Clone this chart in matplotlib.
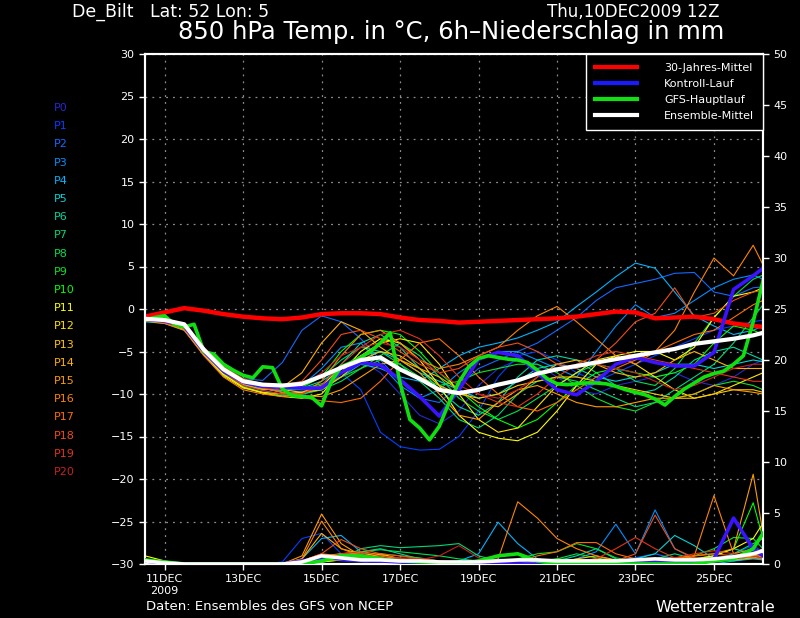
import numpy as np
import matplotlib
matplotlib.use("Agg")
import matplotlib.pyplot as plt
from matplotlib.lines import Line2D

# days after 11DEC2009 00Z (run: 10DEC2009 12Z)
t12 = np.append(np.arange(32) * 0.5 - 0.5, 15.25)
t6 = np.arange(64) * 0.25 - 0.5

tick_days = [0, 2, 4, 6, 8, 10, 12, 14]
tick_names = ["11DEC\n2009", "13DEC", "15DEC", "17DEC", "19DEC", "21DEC", "23DEC", "25DEC"]

member_names = ["P%d" % i for i in range(21)]
member_colors = ['#2828d0', '#0040ff', '#1468ff', '#0090ff', '#00b4ff', '#00d4d8', '#00d8a0',
                 '#00d878', '#00e050', '#10e028', '#00ff00', '#ffff00', '#ffe400', '#ffc800',
                 '#ffb000', '#ff9c00', '#ff8400', '#ff6c00', '#f04c18', '#e03418', '#c82020']

# 850 hPa temperature, ensemble members (12-hourly)
ens_temp = [
    [-1.2,-1.5,-2.2,-5.0,-7.4,-8.9,-9.6,-10.0,-10.2,-9.0,-7.0,-6.0,-7.5,-10.0,-12.5,-13.5,-12.0,-9.0,-7.0,-6.0,-6.5,-8.0,-9.5,-10.0,-9.0,-8.5,-8.0,-7.5,-8.5,-9.0,-8.0,-6.5,-6.0],
    [-1.1,-1.3,-2.0,-4.6,-7.0,-8.6,-9.2,-9.5,-9.7,-9.0,-7.5,-9.5,-14.5,-16.2,-16.6,-16.5,-15.0,-12.0,-8.0,-5.5,-5.0,-6.0,-7.5,-8.5,-7.5,-6.5,-5.5,-4.5,-3.5,-2.5,-2.0,-1.5,-1.3],
    [-1.3,-1.4,-1.9,-4.5,-6.8,-8.2,-8.4,-6.3,-2.5,-0.8,-1.5,-3.5,-6.0,-8.5,-10.5,-11.0,-9.0,-7.0,-6.0,-5.0,-4.0,-2.5,-1.0,1.0,2.5,3.0,3.5,4.2,4.3,2.0,1.5,2.5,2.6],
    [-1.2,-1.3,-2.1,-5.2,-7.5,-8.8,-9.5,-9.5,-9.0,-7.0,-4.5,-4.0,-6.5,-9.0,-10.5,-9.5,-7.5,-6.0,-5.0,-5.0,-6.0,-7.0,-8.0,-5.0,-2.0,0.5,-1.0,-0.5,1.0,2.5,3.5,4.0,3.5],
    [-1.4,-1.6,-2.3,-5.0,-7.2,-8.6,-9.3,-9.8,-10.0,-9.5,-8.0,-6.5,-7.0,-8.0,-8.5,-7.0,-5.5,-4.5,-4.0,-3.4,-2.5,-1.5,0.3,2.0,3.8,5.4,4.8,2.0,-0.8,-2.0,-3.0,-2.5,-2.0],
    [-1.5,-1.7,-2.5,-5.3,-7.8,-9.0,-9.4,-9.6,-9.3,-8.5,-7.0,-5.5,-5.0,-6.0,-7.5,-8.5,-9.5,-10.5,-10.0,-8.5,-7.0,-6.5,-7.0,-8.0,-8.5,-8.0,-7.5,-6.5,-6.5,-7.0,-6.5,-6.0,-6.2],
    [-1.2,-1.4,-2.0,-4.9,-7.1,-8.4,-8.9,-9.3,-9.5,-9.0,-6.5,-4.0,-3.0,-4.5,-7.0,-9.5,-11.5,-12.5,-11.0,-8.0,-6.0,-5.5,-6.0,-7.5,-9.0,-10.0,-9.5,-8.0,-6.0,-5.0,-4.5,-5.5,-6.0],
    [-1.1,-1.2,-1.8,-4.7,-7.0,-8.3,-8.8,-9.0,-8.8,-8.0,-6.0,-4.5,-5.0,-6.5,-8.5,-10.5,-13.0,-14.0,-12.5,-10.0,-8.5,-8.0,-8.5,-9.5,-10.5,-11.5,-11.0,-9.5,-8.0,-6.5,-4.0,-1.0,0.5],
    [-1.3,-1.5,-2.2,-5.1,-7.6,-9.1,-9.8,-10.2,-10.0,-9.5,-8.5,-7.0,-5.5,-4.0,-5.5,-8.0,-10.5,-12.0,-13.0,-12.0,-10.5,-9.0,-7.5,-6.5,-7.0,-8.5,-9.0,-7.0,-4.0,-1.0,1.5,3.5,4.0],
    [-1.2,-1.4,-2.1,-4.8,-7.3,-8.7,-9.2,-9.4,-9.4,-8.8,-8.0,-7.0,-6.0,-6.5,-8.0,-9.0,-8.5,-7.5,-7.0,-6.5,-6.5,-7.5,-9.0,-10.5,-11.5,-12.0,-11.0,-10.5,-10.0,-9.0,-8.5,-9.0,-9.5],
    [-1.0,-1.2,-1.9,-4.6,-6.9,-8.3,-8.8,-9.1,-9.2,-8.0,-5.0,-3.0,-2.5,-3.0,-5.0,-7.5,-9.5,-11.5,-13.0,-14.0,-13.0,-11.0,-9.0,-7.5,-7.0,-7.5,-8.0,-7.5,-6.5,-4.0,-2.0,-2.5,-3.0],
    [-1.3,-1.5,-2.3,-5.2,-7.7,-9.2,-9.9,-10.3,-10.5,-10.0,-7.5,-5.0,-3.5,-4.0,-6.0,-9.0,-12.5,-14.5,-15.2,-15.5,-14.5,-12.0,-9.0,-6.5,-5.5,-5.0,-5.0,-6.0,-4.5,-1.0,1.5,2.0,2.5],
    [-1.4,-1.6,-2.4,-5.4,-7.9,-9.3,-9.8,-10.0,-9.8,-9.0,-7.0,-5.5,-4.0,-3.5,-4.0,-6.5,-10.0,-13.0,-14.5,-14.0,-11.5,-9.0,-7.5,-6.0,-5.5,-6.5,-8.0,-9.5,-10.5,-10.0,-9.0,-8.0,-7.5],
    [-1.2,-1.3,-2.0,-4.9,-7.2,-8.6,-9.1,-9.5,-9.8,-9.5,-8.0,-6.0,-5.0,-5.5,-7.0,-9.0,-10.0,-10.5,-10.0,-9.0,-8.5,-8.0,-8.0,-8.5,-9.0,-9.5,-10.0,-10.5,-10.5,-10.0,-9.5,-9.5,-9.8],
    [-1.3,-1.5,-2.1,-5.0,-7.4,-8.9,-9.5,-9.2,-7.5,-4.0,-1.5,-2.5,-4.5,-6.0,-7.0,-8.0,-9.5,-11.0,-11.5,-10.0,-8.0,-6.5,-6.0,-6.5,-7.5,-8.0,-7.5,-6.0,-5.0,-6.0,-7.0,-7.0,-7.0],
    [-1.1,-1.3,-1.9,-4.7,-7.0,-8.5,-9.3,-9.8,-10.2,-10.3,-9.5,-8.0,-6.5,-6.0,-7.5,-10.0,-12.5,-13.0,-11.0,-9.5,-9.0,-10.0,-11.0,-11.5,-11.5,-11.0,-10.5,-10.5,-10.0,-9.0,-9.5,-9.8,-10.0],
    [-1.4,-1.7,-2.5,-5.5,-8.0,-9.5,-10.0,-10.3,-10.0,-8.5,-5.5,-3.0,-2.5,-4.0,-6.0,-7.0,-6.5,-5.5,-4.5,-2.5,-0.8,0.3,-1.5,-3.5,-5.5,-6.5,-5.0,-2.5,2.0,6.0,3.9,7.5,5.2],
    [-1.2,-1.4,-2.0,-4.8,-7.2,-8.7,-9.3,-9.8,-10.4,-10.8,-11.0,-10.5,-8.5,-6.0,-4.0,-3.5,-5.5,-8.0,-10.0,-11.5,-12.0,-11.0,-9.5,-8.0,-7.0,-6.0,-5.0,-4.0,-3.0,-2.5,-1.0,0.5,1.0],
    [-1.0,-1.2,-1.8,-4.5,-6.8,-8.2,-8.8,-9.0,-8.5,-6.0,-3.0,-2.5,-3.5,-5.0,-6.5,-7.5,-7.0,-5.5,-4.5,-4.0,-5.0,-6.5,-7.0,-6.0,-4.0,-1.5,-0.5,2.5,-1.0,-0.5,1.0,2.0,2.2],
    [-1.3,-1.6,-2.3,-5.1,-7.5,-9.0,-9.6,-10.0,-10.0,-9.0,-6.5,-4.5,-3.0,-2.5,-3.5,-5.5,-8.0,-10.0,-11.0,-11.5,-10.0,-8.0,-6.5,-5.5,-5.0,-5.5,-6.0,-6.5,-7.0,-7.5,-8.0,-8.5,-8.5],
    [-1.2,-1.4,-2.1,-5.0,-7.3,-8.7,-9.2,-9.5,-9.0,-7.5,-5.5,-4.5,-4.0,-4.5,-6.0,-7.5,-9.0,-10.0,-10.5,-9.5,-8.0,-7.0,-6.5,-6.5,-7.0,-7.5,-8.5,-9.5,-9.0,-8.0,-7.0,-6.5,-6.5],
]

# 6h precipitation (mm), ensemble members (12-hourly)
ens_prec = [
    [0.3,0.2,0,0,0,0,0,0,0.2,0.5,0.3,0.2,0,0,0,0,0.2,0.4,0.2,0,0,0.3,0.2,0,0,0.2,0,0,0.3,0.2,0.5,0.8,1.0],
    [0.2,0,0,0,0,0,0,0.2,2.5,3.0,1.0,0.5,0.3,0,0,0,0,0.3,0.5,0.3,0,0,0,0,0,0,0.4,0.3,0,0.5,1.0,1.8,1.2],
    [0.3,0.1,0,0,0,0,0,0,0.3,0.8,0.6,0.4,0.5,0.3,0,0,0,0,0,0,0,0,0,0,0.3,0.6,1.0,0.5,0.2,0.3,0.5,1.2,0.8],
    [0.2,0,0,0,0,0,0,0,0.2,0.5,0.5,0.3,0.2,0,0,0.2,0,0,0,0,0,0,0.5,1.2,3.9,1.0,5.3,1.5,0.5,0.3,0.4,0.8,0.6],
    [0.4,0.2,0,0,0,0,0,0,0.5,2.5,2.8,1.2,0.6,0.3,0.2,0,0.3,1.0,4.1,2.0,0.5,0.2,0,0,0,0,0.3,0.5,0.2,0,0.3,0.5,0.4],
    [0.3,0.1,0,0,0,0,0,0,0.2,0.6,1.0,0.8,0.5,0.4,0.3,0.2,0,0,0,0,0,0,0,0,0.3,0.5,1.0,2.8,1.8,0.5,0.3,0.6,0.5],
    [0.2,0,0,0,0,0,0,0,0,0.3,0.8,1.2,1.5,1.0,0.5,0.3,0,0,0,0,0,0.3,0.8,1.5,0.5,0,0,0,0.3,0.8,1.5,1.0,0.8],
    [0.2,0.1,0,0,0,0,0,0,0,0.2,0.5,1.5,1.8,1.6,1.7,1.8,2.0,0.8,0.3,0,0,0,0,0,0,0,0.5,1.0,0.5,0.3,1.0,2.0,2.5],
    [0.3,0.1,0,0,0,0,0,0,0,0.3,0.6,1.2,1.4,1.2,1.0,0.8,0.5,0.3,0,0,0.2,0.5,1.0,0.6,0.3,0,0,0.3,0.8,1.5,2.6,2.5,1.5],
    [0.2,0,0,0,0,0,0,0,0,0.2,0.4,0.6,1.0,0.8,0.6,0.3,0,0,0,0.5,1.0,1.2,2.0,1.5,0.6,0.3,0,0,0.2,0.5,0.8,1.0,0.8],
    [0.3,0.2,0,0,0,0,0,0,0,0.4,0.5,0.6,0.8,0.5,0.3,0.2,0,0,0,0,0.3,0.5,0.4,0.3,0,0,0,0.3,0.5,0.8,1.5,6.0,2.5],
    [0.8,0.3,0,0,0,0,0,0,0,0.2,0.4,0.8,1.0,0.5,0.3,0,0,0,0,0,0,0,0,0,0,0,0,0.2,0.5,0.8,1.5,2.5,4.0],
    [0.5,0.2,0,0,0,0,0,0,0,0.3,0.6,1.0,0.8,0.5,0.3,0.2,0,0,0,0,0,0.2,0.3,0.5,0.3,0,0,0.2,0.3,0.5,0.8,1.0,1.5],
    [0.4,0.2,0,0,0,0,0,0,0.2,0.8,1.0,1.2,0.9,0.5,0.3,0,0,0,0,0,0,0.2,0.5,0.8,0.4,0.2,0,0,0.3,0.5,0.6,0.8,1.0],
    [0.3,0.1,0,0,0,0,0,0,0.5,3.0,1.5,1.0,0.6,0.3,0.2,0,0,0,0,0,0.2,0.4,0.3,0.2,0,0,0.2,0.4,0.6,0.5,0.4,0.6,0.8],
    [0.2,0.1,0,0,0,0,0,0,0.8,4.9,2.0,0.8,0.5,0.3,0.2,0,0,0,0,0,0,0,0,0,0,0.3,0.5,0.6,0.8,1.0,1.5,8.8,3.0],
    [0.3,0.1,0,0,0,0,0,0,0.5,4.2,1.5,0.8,0.5,0.3,0,0,0,0,0.5,6.1,4.5,2.5,1.5,0.8,0.3,0.2,0,0.3,0.8,6.7,1.0,1.5,1.2],
    [0.2,0.1,0,0,0,0,0,0,0.3,1.0,0.8,0.6,0.4,0.3,0.2,0,0,0,0,0.3,0.8,1.2,2.1,2.1,1.0,0.5,0.3,0.5,0.8,1.0,0.8,0.6,0.5],
    [0.3,0.1,0,0,0,0,0,0,0.3,1.0,2.4,1.5,1.0,0.8,0.5,0.3,0,0,0,0,0,0,0,0,0.3,1.0,4.8,1.5,0.6,0.5,0.8,1.0,0.8],
    [0.2,0,0,0,0,0,0,0,0.2,0.6,1.0,1.2,0.8,0.6,0.5,0.3,0.2,0,0,0,0,0,0.2,0.5,1.5,2.6,1.5,0.6,1.0,1.3,1.0,0.8,0.6],
    [0.2,0,0,0,0,0,0,0,0.2,0.5,0.8,1.0,0.6,0.5,0.4,0.8,1.8,0.6,0.2,0,0,0,0,0,0,0.3,0.5,0.3,0.2,0.5,0.8,1.0,1.2],
]

clim_temp = [-0.9,-0.4,0.1,-0.2,-0.6,-0.9,-1.1,-1.2,-1.0,-0.6,-0.5,-0.5,-0.6,-1.0,-1.3,-1.4,-1.6,-1.5,-1.4,-1.3,-1.2,-1.1,-0.9,-0.6,-0.3,-0.4,-1.1,-1.0,-0.9,-1.2,-1.7,-2.0,-2.1]
mean_temp = [-1.15,-1.3,-1.8,-4.8,-7.1,-8.5,-8.9,-9.0,-8.8,-7.9,-6.9,-6.0,-5.7,-7.1,-8.2,-9.5,-9.9,-9.5,-8.9,-8.4,-7.6,-7.1,-6.7,-6.3,-5.9,-5.5,-5.1,-4.7,-4.1,-3.8,-3.5,-3.1,-2.8]
ctrl_temp = [-1.2,-1.4,-2.0,-5.0,-7.3,-8.6,-9.1,-9.2,-9.3,-9.3,-7.5,-6.3,-6.6,-8.3,-10.3,-12.6,-9.5,-5.9,-5.1,-5.5,-7.5,-9.5,-10.1,-8.5,-6.5,-5.7,-6.3,-6.7,-6.7,-5.1,2.3,3.9,4.8]
# GFS main run, 6-hourly
gfs_temp = [-1.3,-1.0,-0.8,-1.8,-2.1,-1.8,-5.0,-5.3,-6.5,-7.2,-7.8,-8.1,-6.8,-6.9,-9.4,-10.2,
            -10.3,-10.4,-11.4,-8.5,-6.8,-6.3,-5.7,-5.0,-4.0,-2.8,-8.7,-13.0,-14.0,-15.4,-13.8,-11.0,
            -8.6,-6.8,-5.8,-5.5,-5.7,-5.9,-6.0,-6.3,-7.2,-8.2,-8.8,-8.9,-8.8,-8.7,-8.7,-8.8,
            -9.1,-9.5,-9.8,-10.1,-10.6,-11.3,-10.3,-9.4,-8.7,-8.0,-7.6,-7.3,-6.5,-5.5,-1.5,3.3]

mean_prec = [0.3,0.1,0,0,0,0,0,0,0.2,0.8,0.6,0.4,0.4,0.3,0.3,0.2,0.2,0.2,0.3,0.4,0.4,0.3,0.3,0.3,0.3,0.4,0.5,0.4,0.4,0.5,0.7,1.0,1.3]
ctrl_prec = [0.3,0.1,0,0,0,0,0,0,0.3,0.6,0.5,0.4,0.3,0.2,0,0,0,0,0,0,0,0,0,0,0,0.2,0.3,0.2,0.3,0.5,4.5,1.5,0.8]
gfs_prec = [0.4,0.2,0,0,0,0,0,0,0,0.3,0.8,0.8,0.5,0.3,0.2,0.1,0,0.3,0.8,1.0,0.3,0,0,0,0,0,0,0,0,0.3,0.5,1.5,3.0]

legend_labels = ["30-Jahres-Mittel", "Kontroll-Lauf", "GFS-Hauptlauf", "Ensemble-Mittel"]
c_clim, c_ctrl, c_gfs, c_mean = '#ff0000', '#3a14ff', '#10e010', '#ffffff'

W, H = 800, 618
fig = plt.figure(figsize=(W / 100, H / 100), dpi=100, facecolor='black')
ax = fig.add_axes([145 / W, 1 - 564 / H, 618 / W, 510 / H])
ax.set_facecolor('black')
ax2 = ax.twinx()

# temperature
for temp, col in zip(ens_temp, member_colors):
    ax.plot(t12, temp, color=col, lw=0.8, zorder=2)
ax.plot(t12, clim_temp, color=c_clim, lw=3.2, zorder=3)
ax.plot(t12, ctrl_temp, color=c_ctrl, lw=2.6, zorder=4)
ax.plot(t6, gfs_temp, color=c_gfs, lw=2.6, zorder=5)
ax.plot(t12, mean_temp, color=c_mean, lw=3.0, zorder=6)

# precipitation on right axis
for prec, col in zip(ens_prec, member_colors):
    ax2.plot(t12, prec, color=col, lw=0.8, zorder=2)
ax2.plot(t12, ctrl_prec, color=c_ctrl, lw=2.6, zorder=3)
ax2.plot(t12, gfs_prec, color=c_gfs, lw=2.6, zorder=4)
ax2.plot(t12, mean_prec, color=c_mean, lw=2.6, zorder=5)

ax.set_xlim(-0.5, 15.25)
ax.set_ylim(-30, 30)
ax2.set_ylim(0, 50)
ax.set_xticks(tick_days)
ax.set_xticklabels(tick_names)
ax.set_yticks(np.arange(-30, 31, 5))
ax2.set_yticks(np.arange(0, 51, 5))

ax.set_axisbelow(True)
ax.grid(color='#8c8c8c', linestyle=(0, (1.5, 4)), linewidth=0.9)
for a in (ax, ax2):
    a.tick_params(colors='white', labelcolor='white', direction='out', length=4, width=1, labelsize=8)
    for s in a.spines.values():
        s.set_color('white')
        s.set_linewidth(1.5)

handles = [Line2D([], [], color=c, lw=3) for c in (c_clim, '#1a1aff', c_gfs, c_mean)]
leg = ax2.legend(handles, legend_labels, loc='upper right', bbox_to_anchor=(1, 1),
                 frameon=True, facecolor='black', edgecolor='white', fancybox=False,
                 fontsize=8, handlelength=3.8, handletextpad=2.4, labelspacing=0.55,
                 borderpad=0.8, borderaxespad=0)
leg.get_frame().set_linewidth(1)
leg.get_frame().set_alpha(1)
leg.set_zorder(10)
for txt in leg.get_texts():
    txt.set_color('white')

for i, (name, col) in enumerate(zip(member_names, member_colors)):
    fig.text(54 / W, 1 - (108 + 18.2 * i) / H, name, color=col, fontsize=8, va='center')

fig.text(72 / W, 1 - 12 / H, "De_Bilt   Lat: 52 Lon: 5", color='white', fontsize=12.5, va='center')
fig.text(547 / W, 1 - 12 / H, "Thu,10DEC2009 12Z", color='white', fontsize=12, va='center')
fig.text(178 / W, 1 - 32 / H, "850 hPa Temp. in °C, 6h\u2013Niederschlag in mm", color='white',
         fontsize=17.5, va='center')
fig.text(146 / W, 1 - 607 / H, "Daten: Ensembles des GFS von NCEP", color='white', fontsize=9.5, va='center')
fig.text(655 / W, 1 - 607 / H, "Wetterzentrale", color='white', fontsize=11.5, va='center')

fig.savefig('out.png', dpi=100, facecolor='black')
